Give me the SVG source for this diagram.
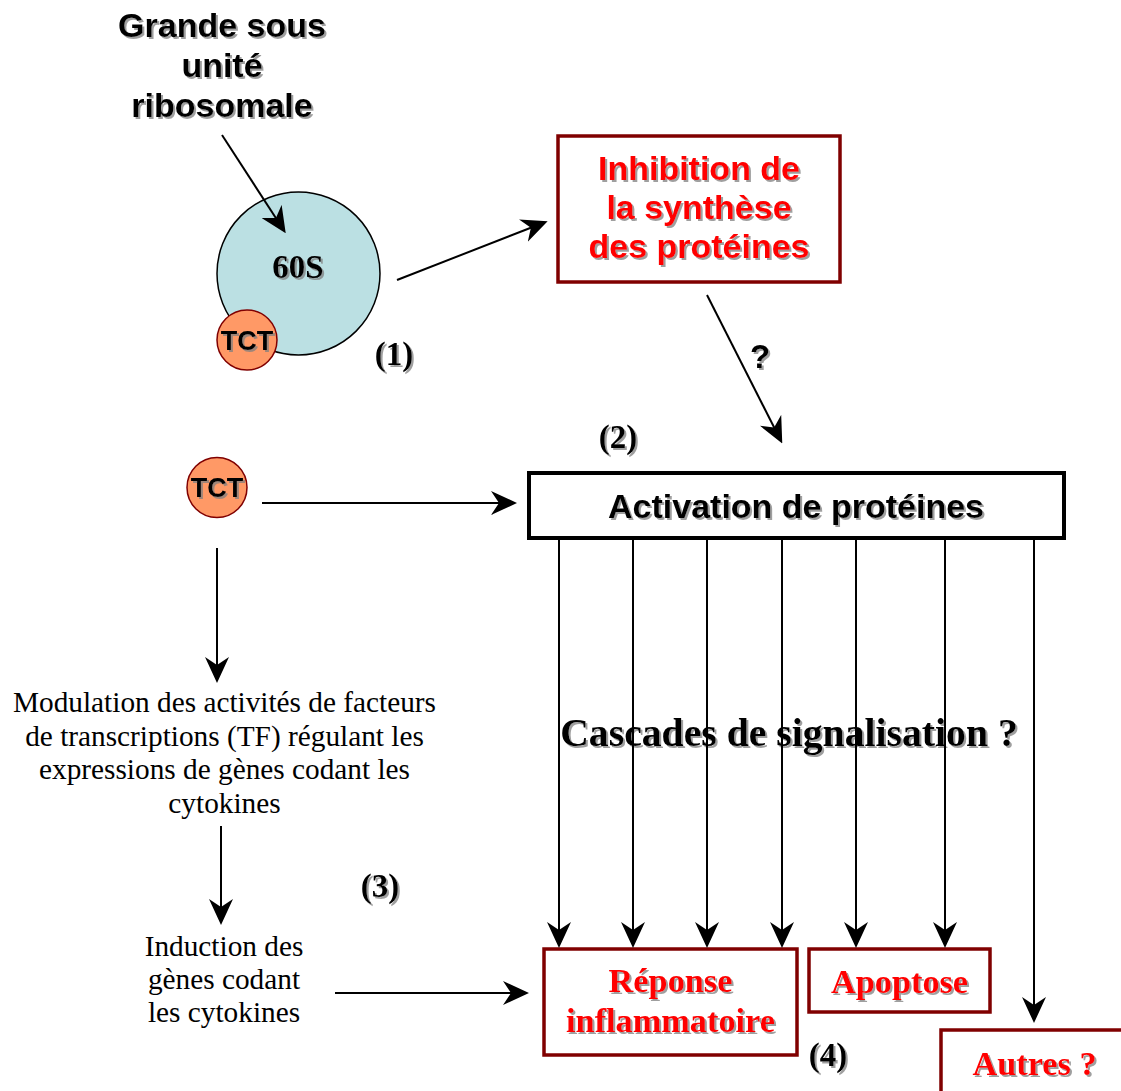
<svg xmlns="http://www.w3.org/2000/svg" width="1121" height="1091" viewBox="0 0 1121 1091">
<defs>
<filter id="sh" x="-10%" y="-20%" width="130%" height="150%">
<feDropShadow dx="2" dy="2" stdDeviation="0.6" flood-color="#7f7f7f" flood-opacity="0.75"/>
</filter>
<marker id="ah" markerWidth="26" markerHeight="24" refX="21" refY="12" orient="auto" markerUnits="userSpaceOnUse">
<path d="M0,0 L26,12 L0,24 L8,12 z" fill="#000"/>
</marker>
<style>
.ar{font-family:"Liberation Sans",Arial,sans-serif;font-weight:bold;text-anchor:middle}
.tb{font-family:"Liberation Serif","Times New Roman",serif;font-weight:bold;text-anchor:middle}
.tr{font-family:"Liberation Serif","Times New Roman",serif;font-size:29.3px;text-anchor:middle;fill:#000}
.sh{filter:url(#sh)}
.red{fill:#ff0000}
.rbox{fill:#fff;stroke:#800000;stroke-width:3.5}
.tct{fill:#ff9966;stroke:#800000;stroke-width:1.5}
.cn{stroke:#000;stroke-width:2;fill:none;marker-end:url(#ah)}
</style>
</defs>
<rect width="1121" height="1091" fill="#fff"/>

<g id="label-grande">
<text class="ar sh" font-size="34" x="222" y="37">Grande sous</text>
<text class="ar sh" font-size="34" x="222" y="77">unité</text>
<text class="ar sh" font-size="34" x="222" y="117">ribosomale</text>
</g>

<g id="node-60S">
<circle cx="298.5" cy="273.5" r="81.5" fill="#bbe0e3" stroke="#000" stroke-width="1.5"/>
<text class="tb sh" font-size="33" x="298" y="278">60S</text>
</g>

<g id="node-TCT1">
<circle class="tct" cx="247" cy="340" r="30"/>
<text class="ar sh" font-size="27" x="247" y="350">TCT</text>
</g>

<g id="node-TCT2">
<circle class="tct" cx="217" cy="487.5" r="30"/>
<text class="ar sh" font-size="27" x="217" y="497">TCT</text>
</g>

<g id="node-inhibition">
<rect class="rbox" x="558" y="136" width="282" height="146"/>
<text class="ar red sh" font-size="34" x="699" y="180">Inhibition de</text>
<text class="ar red sh" font-size="34" x="699" y="219">la synthèse</text>
<text class="ar red sh" font-size="34" x="699" y="258">des protéines</text>
</g>

<g id="node-activation">
<rect x="529" y="473" width="535" height="65" fill="#fff" stroke="#000" stroke-width="4"/>
<text class="ar sh" font-size="34" x="796" y="518">Activation de protéines</text>
</g>

<g id="label-cascades">
<text class="tb sh" font-size="39.7" x="789" y="746">Cascades de signalisation ?</text>
</g>

<g id="node-modulation">
<text class="tr" x="224.5" y="712">Modulation des activités de facteurs</text>
<text class="tr" x="224.5" y="745.5">de transcriptions (TF) régulant les</text>
<text class="tr" x="224.5" y="779">expressions de gènes codant les</text>
<text class="tr" x="224.5" y="812.5">cytokines</text>
</g>

<g id="node-induction">
<text class="tr" x="224" y="956">Induction des</text>
<text class="tr" x="224" y="989">gènes codant</text>
<text class="tr" x="224" y="1022">les cytokines</text>
</g>

<g id="node-reponse">
<rect class="rbox" x="544" y="949" width="253" height="106"/>
<text class="tb red sh" font-size="34.3" x="670.5" y="992">Réponse</text>
<text class="tb red sh" font-size="34.3" x="670.5" y="1032">inflammatoire</text>
</g>

<g id="node-apoptose">
<rect class="rbox" x="809" y="949" width="181" height="63"/>
<text class="tb red sh" font-size="34.3" x="899.5" y="993">Apoptose</text>
</g>

<g id="node-autres">
<rect class="rbox" x="941" y="1030" width="190" height="70"/>
<text class="tb red sh" font-size="34.3" x="1034.5" y="1075">Autres ?</text>
</g>

<g id="labels">
<text class="tb sh" font-size="33" x="394" y="365">(1)</text>
<text class="tb sh" font-size="33" x="618" y="448">(2)</text>
<text class="tb sh" font-size="33" x="380" y="897">(3)</text>
<text class="tb sh" font-size="33" x="828" y="1066">(4)</text>
<text class="ar sh" font-size="33" x="760" y="368">?</text>
</g>

<g id="connectors">
<line class="cn" x1="222" y1="135" x2="283" y2="229"/>
<line class="cn" x1="397" y1="280" x2="543" y2="223"/>
<line class="cn" x1="707" y1="295" x2="780" y2="439"/>
<line class="cn" x1="262" y1="503" x2="512" y2="503"/>
<line class="cn" x1="217" y1="548" x2="217" y2="678"/>
<line class="cn" x1="221" y1="826" x2="221" y2="920"/>
<line class="cn" x1="335" y1="993" x2="524" y2="993"/>
<line class="cn" x1="559" y1="540" x2="559" y2="943"/>
<line class="cn" x1="633" y1="540" x2="633" y2="943"/>
<line class="cn" x1="707" y1="540" x2="707" y2="943"/>
<line class="cn" x1="782" y1="540" x2="782" y2="943"/>
<line class="cn" x1="856" y1="540" x2="856" y2="943"/>
<line class="cn" x1="945" y1="540" x2="945" y2="943"/>
<line class="cn" x1="1034" y1="540" x2="1034" y2="1018"/>
</g>
</svg>
